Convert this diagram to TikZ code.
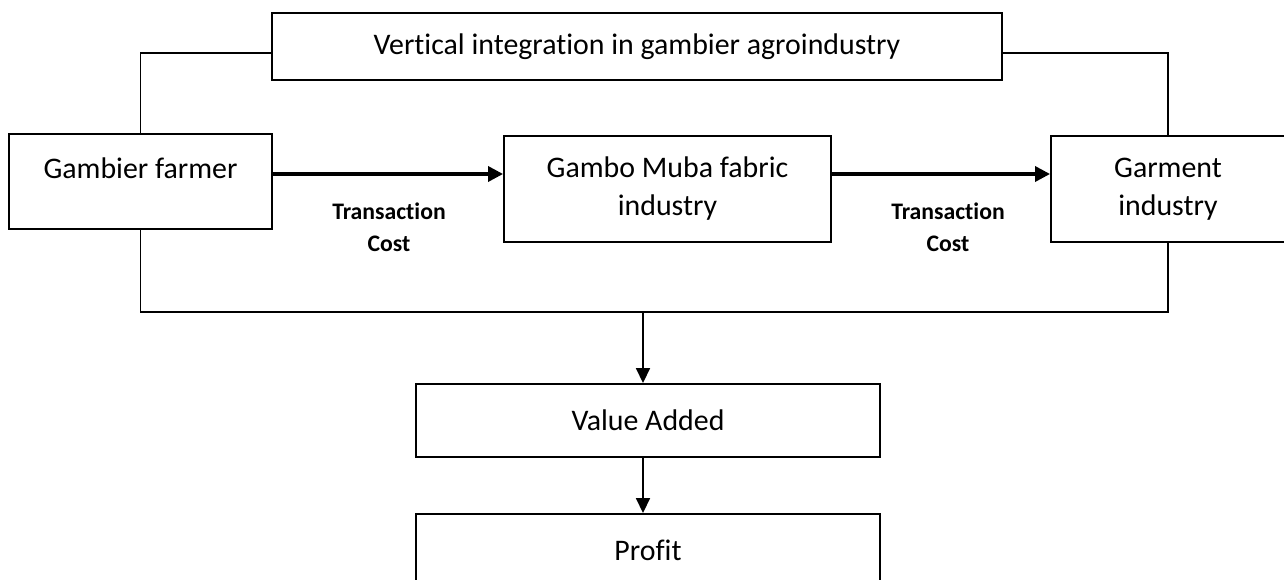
\documentclass[tikz,border=0pt]{standalone}
\usepackage{fontspec}
\setmainfont{Carlito}[Ligatures=NoCommon]
\usetikzlibrary{arrows.meta}

\begin{document}
\begin{tikzpicture}[x=0.02cm, y=-0.02cm,
		box/.style={draw, line width=1.1pt, inner sep=0pt, align=center,
			font=\fontsize{17}{21.6}\selectfont},
		link/.style={line width=0.75pt},
		flow/.style={line width=1.9pt, -{Triangle[length=0.3cm, width=0.3cm]}},
		down/.style={line width=1pt, -{Triangle[length=0.3cm, width=0.28cm]}},
		cost/.style={align=center, font=\fontsize{13.5}{18}\selectfont\bfseries}]
		\useasboundingbox (0, 0) rectangle (1284, 580);

		\node[box, minimum width=14.6cm, minimum height=1.34cm] (top) at (637, 46.5)
		{Vertical integration in gambier agroindustry};
		\node[box, minimum width=5.26cm, minimum height=1.9cm] (farmer) at (140.5, 181.5) {};
		\node[font=\fontsize{17}{21.6}\selectfont] (farmertext) at (140.5, 168) {Gambier farmer};
		\node[box, minimum width=6.54cm, minimum height=2.12cm] (mid) at (667.5, 189)
		{Gambo Muba fabric\\industry};
		\node[box, minimum width=4.68cm, minimum height=2.12cm] (garment) at (1168, 189)
		{Garment\\industry};
		\node[box, minimum width=9.28cm, minimum height=1.46cm] (value) at (648, 420.5)
		{Value Added};
		\node[box, minimum width=9.28cm, minimum height=1.46cm] (profit) at (648, 550.5)
		{Profit};

		\coordinate (bus) at (643, 312);

		\draw[link] (farmer.north) |- ([yshift=-0.13cm]top.west);
		\draw[link] ([yshift=-0.13cm]top.east) -| (garment.north);
		\draw[link] (farmer.south) |- (bus) -| (garment.south);

		\draw[flow] ([yshift=0.15cm]farmer.east) -- ([yshift=0.15cm]farmer.east -| mid.west);
		\draw[flow] ([yshift=0.3cm]mid.east) -- ([yshift=0.3cm]garment.west);
		\draw[down] (bus) -- (bus |- value.north);
		\draw[down] (bus |- value.south) -- (bus |- profit.north);

		\node[cost] (cost1) at (389, 227) {Transaction\\Cost};
		\node[cost] (cost2) at (948, 227) {Transaction\\Cost};
	\end{tikzpicture}
\end{document}
